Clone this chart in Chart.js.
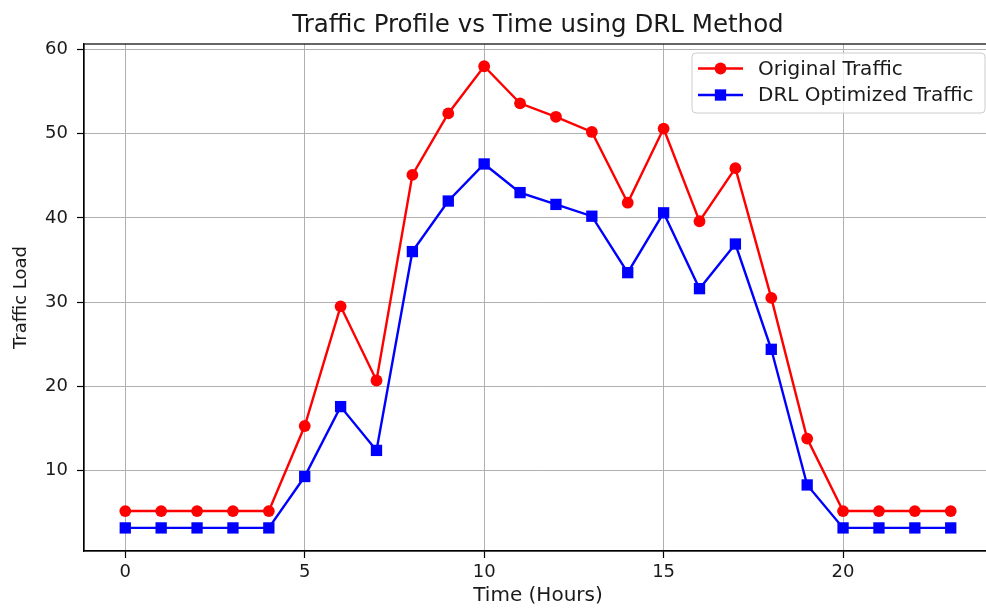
<!DOCTYPE html>
<html>
<head>
<meta charset="utf-8">
<script src="https://cdn.jsdelivr.net/npm/chart.js@4/dist/chart.umd.min.js"></script>
<style>
  html, body { margin: 0; padding: 0; background: #fff; overflow: hidden; width: 986px; height: 608px; }
  #wrap { position: relative; width: 986px; height: 608px; overflow: hidden; }
  #c { position: absolute; left: 0; top: 0; }
</style>
</head>
<body>
<div id="wrap"><canvas id="c" width="1000" height="608"></canvas></div>
<script>
const hours = [0,1,2,3,4,5,6,7,8,9,10,11,12,13,14,15,16,17,18,19,20,21,22,23];
const originalTraffic = [5.2,5.2,5.2,5.2,5.2,15.3,29.5,20.7,45.1,52.4,58.0,53.6,52.0,50.2,41.8,50.6,39.6,45.9,30.5,13.8,5.2,5.2,5.2,5.2];
const drlTraffic = [3.2,3.2,3.2,3.2,3.2,9.3,17.6,12.4,36.0,42.0,46.4,43.0,41.6,40.2,33.5,40.6,31.6,36.9,24.4,8.3,3.2,3.2,3.2,3.2];
const seriesNames = ['Original Traffic', 'DRL Optimized Traffic'];
const xTickValues = [0,5,10,15,20];
const yTickValues = [10,20,30,40,50,60];
const chartTitle = 'Traffic Profile vs Time using DRL Method';
const xTitle = 'Time (Hours)';
const yTitle = 'Traffic Load';

const FONT = 'DejaVu Sans';
const TEXT = '#1a1a1a';

const toPoints = (vals) => hours.map((h, i) => ({ x: h, y: vals[i] }));

const frameTitleLegend = {
  id: 'frameTitleLegend',
  afterDraw(chart) {
    const { ctx, chartArea: a } = chart;
    ctx.save();
    // title centred over the axes
    ctx.fillStyle = TEXT;
    ctx.font = '24.5px "' + FONT + '"';
    ctx.textAlign = 'center';
    ctx.textBaseline = 'alphabetic';
    ctx.fillText(chartTitle, (a.left + a.right) / 2, 31.5);

    // full axes box (top/right spines)
    ctx.strokeStyle = '#000';
    ctx.lineWidth = 1.2;
    ctx.strokeRect(a.left, a.top, a.right - a.left, a.bottom - a.top);

    // legend inside upper right
    const bx = 692, by = a.top + 9, bw = (a.right - 7) - 692, bh = 60, r = 4;
    ctx.beginPath();
    ctx.moveTo(bx + r, by);
    ctx.lineTo(bx + bw - r, by);
    ctx.quadraticCurveTo(bx + bw, by, bx + bw, by + r);
    ctx.lineTo(bx + bw, by + bh - r);
    ctx.quadraticCurveTo(bx + bw, by + bh, bx + bw - r, by + bh);
    ctx.lineTo(bx + r, by + bh);
    ctx.quadraticCurveTo(bx, by + bh, bx, by + bh - r);
    ctx.lineTo(bx, by + r);
    ctx.quadraticCurveTo(bx, by, bx + r, by);
    ctx.closePath();
    ctx.fillStyle = 'rgba(255,255,255,0.8)';
    ctx.fill();
    ctx.strokeStyle = '#cccccc';
    ctx.lineWidth = 1;
    ctx.stroke();

    const rows = [by + 15.5, by + 42];
    chart.data.datasets.forEach((ds, i) => {
      const y = rows[i];
      ctx.strokeStyle = ds.borderColor;
      ctx.lineWidth = ds.borderWidth;
      ctx.beginPath();
      ctx.moveTo(698, y);
      ctx.lineTo(743, y);
      ctx.stroke();
      ctx.fillStyle = ds.pointBackgroundColor;
      if (ds.pointStyle === 'rect') {
        const s = ds.pointRadius * Math.SQRT1_2;
        ctx.fillRect(720.5 - s, y - s, 2 * s, 2 * s);
      } else {
        ctx.beginPath();
        ctx.arc(720.5, y, ds.pointRadius, 0, Math.PI * 2);
        ctx.fill();
      }
      ctx.fillStyle = TEXT;
      ctx.font = '20px "' + FONT + '"';
      ctx.textBaseline = 'middle';
      ctx.textAlign = 'left';
      ctx.fillText(ds.label, 758, y + 1);
    });
    ctx.restore();
  }
};

new Chart(document.getElementById('c'), {
  type: 'line',
  data: {
    datasets: [
      {
        label: seriesNames[0],
        data: toPoints(originalTraffic),
        borderColor: '#ff0000',
        backgroundColor: '#ff0000',
        pointBackgroundColor: '#ff0000',
        pointBorderColor: '#ff0000',
        pointBorderWidth: 0,
        pointStyle: 'circle',
        pointRadius: 5.9,
        borderWidth: 2.4,
        tension: 0,
        fill: false
      },
      {
        label: seriesNames[1],
        data: toPoints(drlTraffic),
        borderColor: '#0000ff',
        backgroundColor: '#0000ff',
        pointBackgroundColor: '#0000ff',
        pointBorderColor: '#0000ff',
        pointBorderWidth: 0,
        pointStyle: 'rect',
        pointRadius: 8,
        borderWidth: 2.4,
        tension: 0,
        fill: false
      }
    ]
  },
  options: {
    responsive: false,
    animation: false,
    devicePixelRatio: 1,
    layout: { padding: { left: 0, right: 6, top: 44, bottom: 0 } },
    plugins: {
      legend: { display: false },
      tooltip: { enabled: false },
      title: { display: false }
    },
    scales: {
      x: {
        type: 'linear',
        min: -1.15,
        max: 24.15,
        afterBuildTicks: (s) => { s.ticks = xTickValues.map(v => ({ value: v })); },
        afterFit: (s) => { s.height = 57; },
        ticks: {
          color: TEXT,
          font: { family: FONT, size: 18 },
          padding: 4,
          maxRotation: 0,
          autoSkip: false
        },
        grid: {
          color: '#b0b0b0',
          lineWidth: 1,
          drawTicks: true,
          tickLength: 7,
          tickColor: '#000',
          tickWidth: 1.2
        },
        border: { display: true, color: '#000', width: 1.2 },
        title: {
          display: true,
          text: xTitle,
          color: TEXT,
          font: { family: FONT, size: 20 },
          padding: { top: 0, bottom: 0 }
        }
      },
      y: {
        type: 'linear',
        min: 0.46,
        max: 60.64,
        afterBuildTicks: (s) => { s.ticks = yTickValues.map(v => ({ value: v })); },
        afterFit: (s) => { s.width = 84; },
        ticks: {
          color: TEXT,
          font: { family: FONT, size: 18 },
          padding: 9
        },
        grid: {
          color: '#b0b0b0',
          lineWidth: 1,
          drawTicks: true,
          tickLength: 7,
          tickColor: '#000',
          tickWidth: 1.2
        },
        border: { display: true, color: '#000', width: 1.2 },
        title: {
          display: true,
          text: yTitle,
          color: TEXT,
          font: { family: FONT, size: 18 },
          padding: { top: 11, bottom: 0 }
        }
      }
    }
  },
  plugins: [frameTitleLegend]
});
</script>
</body>
</html>
